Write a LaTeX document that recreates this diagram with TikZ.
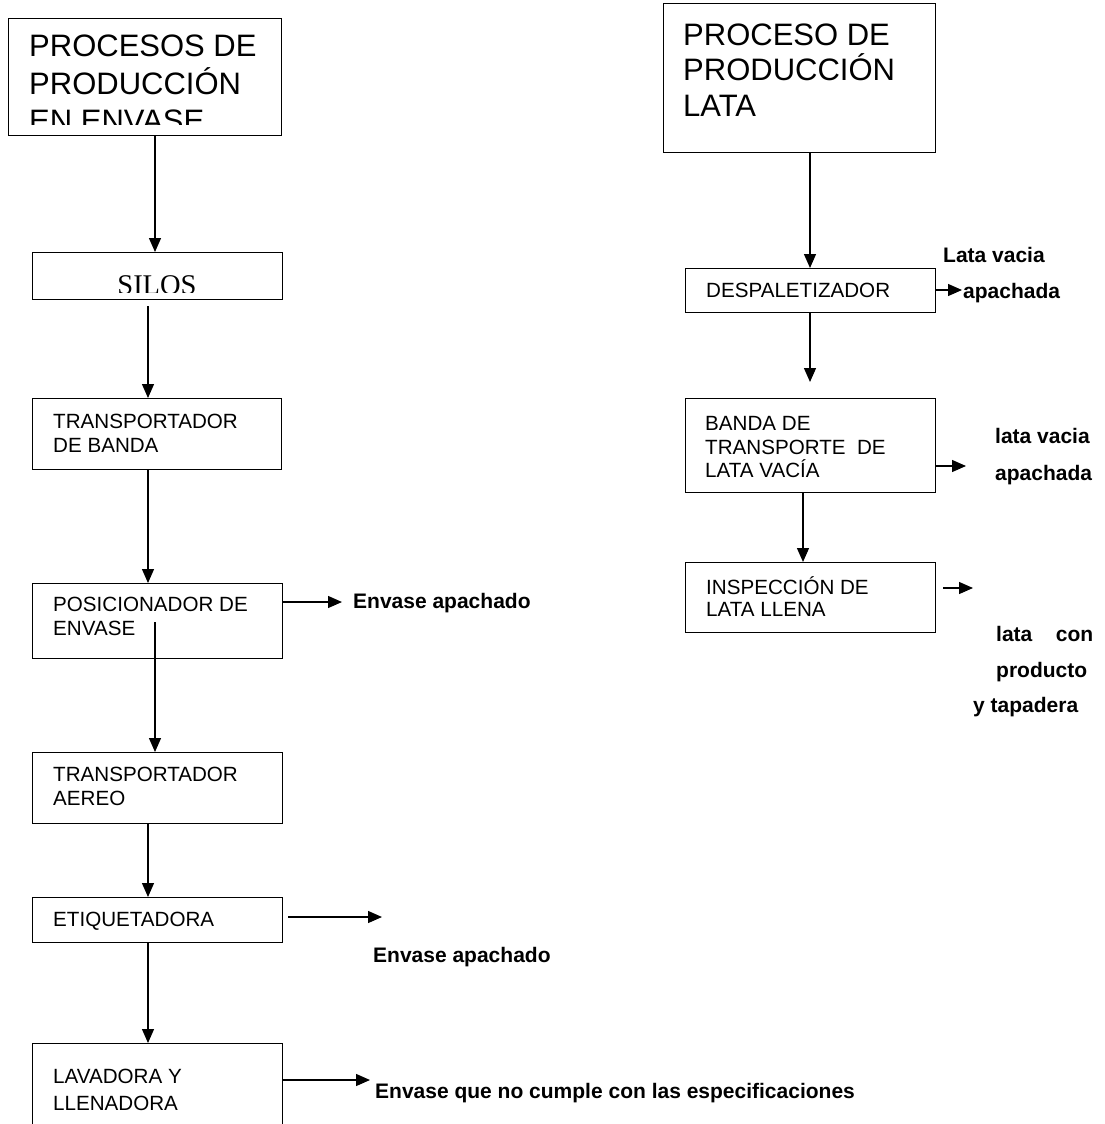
\documentclass[tikz,border=0pt]{standalone}
\usepackage{fontspec}
\setmainfont{Liberation Sans}
\newfontfamily\serifface{Liberation Serif}
\usetikzlibrary{arrows.meta,calc}
\begin{document}
\begin{tikzpicture}[x=1pt,y=-1pt,
  box/.style={draw,line width=1.4pt,inner sep=0pt,anchor=north west},
  lbl/.style={anchor=base west,inner sep=0pt,font=\fontsize{20.6}{24}\selectfont},
  note/.style={anchor=base west,inner sep=0pt,font=\bfseries\fontsize{21}{24}\selectfont},
  ttl/.style={anchor=base west,inner sep=0pt,font=\fontsize{31}{37}\selectfont},
  flow/.style={line width=1.3pt,-{Triangle[length=14pt,width=12pt]}}]
\useasboundingbox (0,0) rectangle (1105,1124);
\clip (0,0) rectangle (1105,1124);

% ---------- left column: envase ----------
\node[box,minimum width=273,minimum height=117] (b1) at (8,18) {};
\node[box,minimum width=250,minimum height=47]  (b2) at (32,252) {};
\node[box,minimum width=249,minimum height=71]  (b3) at (32,398) {};
\node[box,minimum width=250,minimum height=75]  (b4) at (32,583) {};
\node[box,minimum width=250,minimum height=71]  (b5) at (32,752) {};
\node[box,minimum width=250,minimum height=45]  (b6) at (32,897) {};
\node[box,minimum width=250,minimum height=110] (b7) at (32,1043) {};

\begin{scope}
  \clip (b1.north west) rectangle ($(b1.south east)+(0,-12)$);
  \node[ttl] (t1a) at (29,57)  {PROCESOS DE};
  \node[ttl] (t1b) at (29,94)  {PRODUCCIÓN};
  \node[ttl] (t1c) at (29,131) {EN ENVASE};
\end{scope}
\begin{scope}
  \clip (b2.north west) rectangle ($(b2.south east)+(0,-8)$);
  \node[anchor=base,inner sep=0pt,font=\serifface\fontsize{28.5}{32}\selectfont] (t2) at (157,294) {SILOS};
\end{scope}
\node[lbl] (t3a) at (53,428) {TRANSPORTADOR};
\node[lbl] (t3b) at (53,452) {DE BANDA};
\node[lbl] (t4a) at (53,611) {POSICIONADOR DE};
\node[lbl] (t4b) at (53,635) {ENVASE};
\node[lbl] (t5a) at (53,781) {TRANSPORTADOR};
\node[lbl] (t5b) at (53,805) {AEREO};
\node[lbl] (t6)  at (53,926) {ETIQUETADORA};
\node[lbl] (t7a) at (53,1083) {LAVADORA Y};
\node[lbl] (t7b) at (53,1110) {LLENADORA};

\draw[flow] ($(b1.south west)+(147,0)$) -- ($(b2.north west)+(123,0)$);
\draw[flow] ($(b2.south west)+(116,6)$) -- ($(b3.north west)+(116,0)$);
\draw[flow] ($(b3.south west)+(116,0)$) -- ($(b4.north west)+(116,0)$);
\draw[flow] ($(b4.north west)+(123,39)$) -- ($(b5.north west)+(123,0)$);
\draw[flow] ($(b5.south west)+(116,0)$) -- ($(b6.north west)+(116,0)$);
\draw[flow] ($(b6.south west)+(116,0)$) -- ($(b7.north west)+(116,0)$);

\coordinate (e4) at (342,602);
\coordinate (e6) at (382,917);
\coordinate (e7) at (370,1080);
\draw[flow] (b4.east |- e4) -- (e4);
\draw[flow] ($(b6.east |- e6)+(5,0)$) -- (e6);
\draw[flow] (b7.east |- e7) -- (e7);
\node[note] (n4) at (353,608)  {Envase apachado};
\node[note] (n6) at (373,962)  {Envase apachado};
\node[note] (n7) at (375,1098) {Envase que no cumple con las especificaciones};

% ---------- right column: lata ----------
\node[box,minimum width=272,minimum height=149] (r1) at (663,3) {};
\node[box,minimum width=250,minimum height=44]  (r2) at (685,268) {};
\node[box,minimum width=250,minimum height=94]  (r3) at (685,398) {};
\node[box,minimum width=250,minimum height=70]  (r4) at (685,562) {};

\node[ttl] (s1a) at (683,46)  {PROCESO DE};
\node[ttl] (s1b) at (683,81)  {PRODUCCIÓN};
\node[ttl] (s1c) at (683,116) {LATA};
\node[lbl] (s2)  at (706,297) {DESPALETIZADOR};
\node[lbl] (s3a) at (705,430) {BANDA DE};
\node[lbl] (s3b) at (705,454) {TRANSPORTE\ \ DE};
\node[lbl] (s3c) at (705,477) {LATA VACÍA};
\node[lbl] (s4a) at (706,594) {INSPECCIÓN DE};
\node[lbl] (s4b) at (706,616) {LATA LLENA};

\draw[flow] ($(r1.south west)+(147,0)$) -- ($(r2.north west)+(125,0)$);
\draw[flow] ($(r2.south west)+(125,0)$) -- ($(r3.north west)+(125,-16)$);
\draw[flow] ($(r3.south west)+(118,0)$) -- ($(r4.north west)+(118,0)$);

\coordinate (f2) at (962,290);
\coordinate (f3) at (966,466);
\coordinate (f4) at (973,588);
\draw[flow] (r2.east |- f2) -- (f2);
\draw[flow] (r3.east |- f3) -- (f3);
\draw[flow] ($(r4.east |- f4)+(7,0)$) -- (f4);

\node[note] (m2a) at (943,262) {Lata vacia};
\node[note] (m2b) at (963,298) {apachada};
\node[note] (m3a) at (995,443) {lata vacia};
\node[note] (m3b) at (995,480) {apachada};
\node[note] (m4a) at (996,641) {\makebox[97pt][s]{lata\hfill con}};
\node[note] (m4b) at (996,677) {producto};
\node[note] (m4c) at (973,712) {y tapadera};
\end{tikzpicture}
\end{document}
